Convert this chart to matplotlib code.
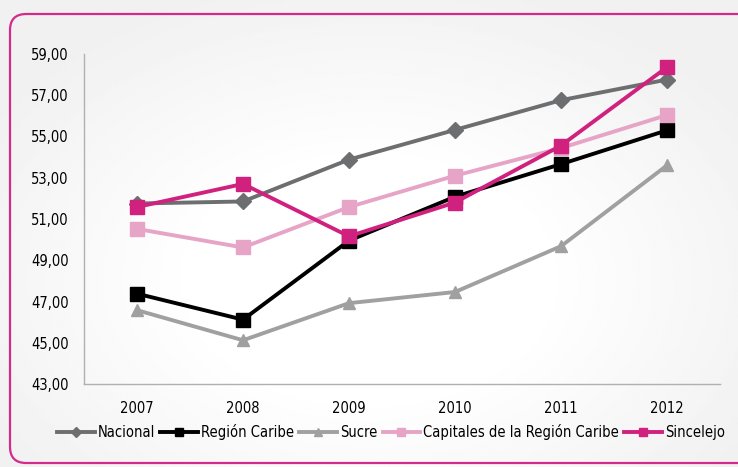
import matplotlib
matplotlib.use("Agg")
import matplotlib.pyplot as plt
import numpy as np
from matplotlib.patches import FancyBboxPatch

plt.rcParams['font.family'] = ['Liberation Sans Narrow', 'DejaVu Sans']
plt.rcParams['font.stretch'] = 'condensed'

# Data
years = ['2007', '2008', '2009', '2010', '2011', '2012']
nacional = [51.75, 51.85, 53.88, 55.32, 56.76, 57.76]
region_caribe = [47.38, 46.12, 49.95, 52.08, 53.66, 55.30]
sucre = [46.58, 45.12, 46.92, 47.46, 49.68, 53.60]
capitales = [50.52, 49.62, 51.58, 53.10, 54.44, 56.04]
sincelejo = [51.58, 52.70, 50.16, 51.80, 54.56, 58.36]

yticks = np.arange(43, 60, 2)

fig = plt.figure(figsize=(7.38, 4.67), dpi=100)

# radial gradient background
bg = fig.add_axes([0, 0, 1, 1], zorder=-10)
gx, gy = np.meshgrid(np.linspace(-1, 1, 300), np.linspace(-1, 1, 200))
r = np.sqrt((gx * 0.75) ** 2 + ((gy + 0.2) * 0.7) ** 2)
grad = np.clip(1 - 0.06 * np.clip(r - 0.35, 0, None) / 0.6, 0.945, 1.0)
bg.imshow(grad, cmap='gray', vmin=0, vmax=1, extent=[0, 1, 0, 1],
          aspect='auto', origin='lower')
bg.set_xlim(0, 1)
bg.set_ylim(0, 1)
bg.axis('off')

# pink rounded frame
frame = FancyBboxPatch((10 / 738, 4 / 467), 760 / 738, 449 / 467,
                       boxstyle='round,pad=0,rounding_size=0.022',
                       transform=fig.transFigure, facecolor='none',
                       edgecolor='#d42a8c', linewidth=1.6, zorder=-5,
                       mutation_aspect=738 / 467)
fig.patches.append(frame)

ax = fig.add_axes([84 / 738, 1 - 384 / 467, 636 / 738, 330 / 467])
ax.set_facecolor('none')
x = np.arange(len(years))

ax.plot(x, sucre, color='#a0a0a0', lw=2.8, marker='^', ms=9, label='Sucre')
ax.plot(x, region_caribe, color='#000000', lw=2.8, marker='s', ms=10.5, label='Región Caribe')
ax.plot(x, capitales, color='#e6a4c7', lw=2.8, marker='s', ms=10, label='Capitales de la Región Caribe')
ax.plot(x, nacional, color='#6d6e70', lw=2.8, marker='D', ms=8, label='Nacional')
ax.plot(x, sincelejo, color='#d0217f', lw=2.8, marker='s', ms=10, label='Sincelejo')

ax.set_xlim(-0.5, len(years) - 0.5)
ax.set_ylim(43, 59)
ax.set_xticks(x)
ax.set_xticklabels(years, fontsize=10.5)
ax.set_yticks(yticks)
ax.set_yticklabels([f'{v:.2f}'.replace('.', ',') for v in yticks], fontsize=10.5)
ax.tick_params(axis='x', length=0, pad=12)
ax.tick_params(axis='y', length=0, pad=11)
for s in ['top', 'right']:
    ax.spines[s].set_visible(False)
for s in ['left', 'bottom']:
    ax.spines[s].set_color('#b0b0b0')
    ax.spines[s].set_linewidth(1.0)

handles, labels = ax.get_legend_handles_labels()
order = ['Nacional', 'Región Caribe', 'Sucre', 'Capitales de la Región Caribe', 'Sincelejo']
hmap = dict(zip(labels, handles))
fig.legend([hmap[k] for k in order], order, loc='center', ncol=5,
           bbox_to_anchor=(391 / 738, 1 - 432 / 467), frameon=False,
           fontsize=10.5, handlelength=2.6, handletextpad=0.2,
           columnspacing=0.35, markerscale=0.6)

fig.savefig('out.png', dpi=100)
